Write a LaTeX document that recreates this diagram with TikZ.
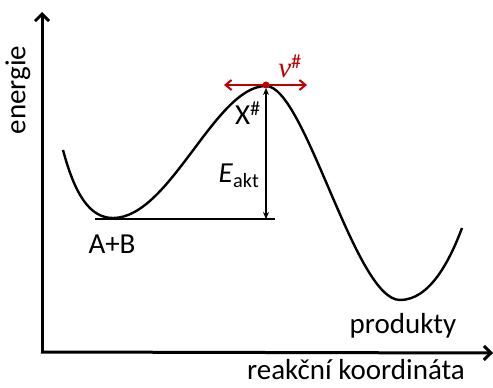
\documentclass[tikz,border=0pt]{standalone}
\usepackage{fontspec}
\setmainfont{Carlito}
\newfontfamily\greekf{Liberation Serif}
\usetikzlibrary{arrows.meta}
\definecolor{rd}{RGB}{192,0,0}
\begin{document}
\begin{tikzpicture}[x=1pt,y=-1pt,
  axis/.style={line width=3pt,-{Straight Barb[length=7pt,width=14pt,line width=3pt]}},
  curve/.style={line width=2.4pt},
  thin/.style={line width=1.5pt},
  lbl/.style={font=\fontsize{29}{32}\selectfont, inner sep=0pt}]
\path[use as bounding box] (0,0) rectangle (493,388);
% axes
\coordinate (O) at (42,353);
\coordinate (Ytop) at (42,12);
\coordinate (Xend) at (493,353);
\draw[axis] (O) -- (Ytop);
\draw[axis] (41,352) -- (Xend);
% curve
\draw[curve] (63,150) .. controls (75,195) and (90,218) .. (113,218)
  .. controls (170,218) and (215,86) .. (266,86)
  .. controls (305,86) and (355,300) .. (400,300)
  .. controls (430,300) and (450,260) .. (462,228);
% baseline
\coordinate (b1) at (95,219);
\coordinate (b2) at (275,219);
\draw[thin] (b1) -- (b2);
\coordinate (atop) at (266,88);
\coordinate (abot) at (266,219);
\draw[thin,{Stealth[length=7pt,width=6pt]}-{Stealth[length=7pt,width=6pt]}] (abot) -- (atop);
% red
\coordinate (rl) at (224,85);
\coordinate (rr) at (307,85);
\draw[rd,line width=2pt,{Straight Barb[length=6pt,width=10pt,line width=2pt]}-{Straight Barb[length=6pt,width=10pt,line width=2pt]}] (rl) -- (rr);
\fill[rd] (266,85) circle (3.5pt);
% labels
\node[lbl,text=rd] (nu) at (290,66) {{\greekf\itshape ν}\textsuperscript{\#}};
\node[lbl] (X) at (248,113) {X\textsuperscript{\#}};
\node[lbl] (E) at (239,176) {\textit{E}\textsubscript{akt}};
\node[lbl] (AB) at (112,244) {A+B};
\node[lbl] (prod) at (403,326) {produkty};
\node[lbl] (rk) at (356,370) {reakční koordináta};
\node[lbl,rotate=90] (en) at (18,90) {energie};
\end{tikzpicture}
\end{document}
